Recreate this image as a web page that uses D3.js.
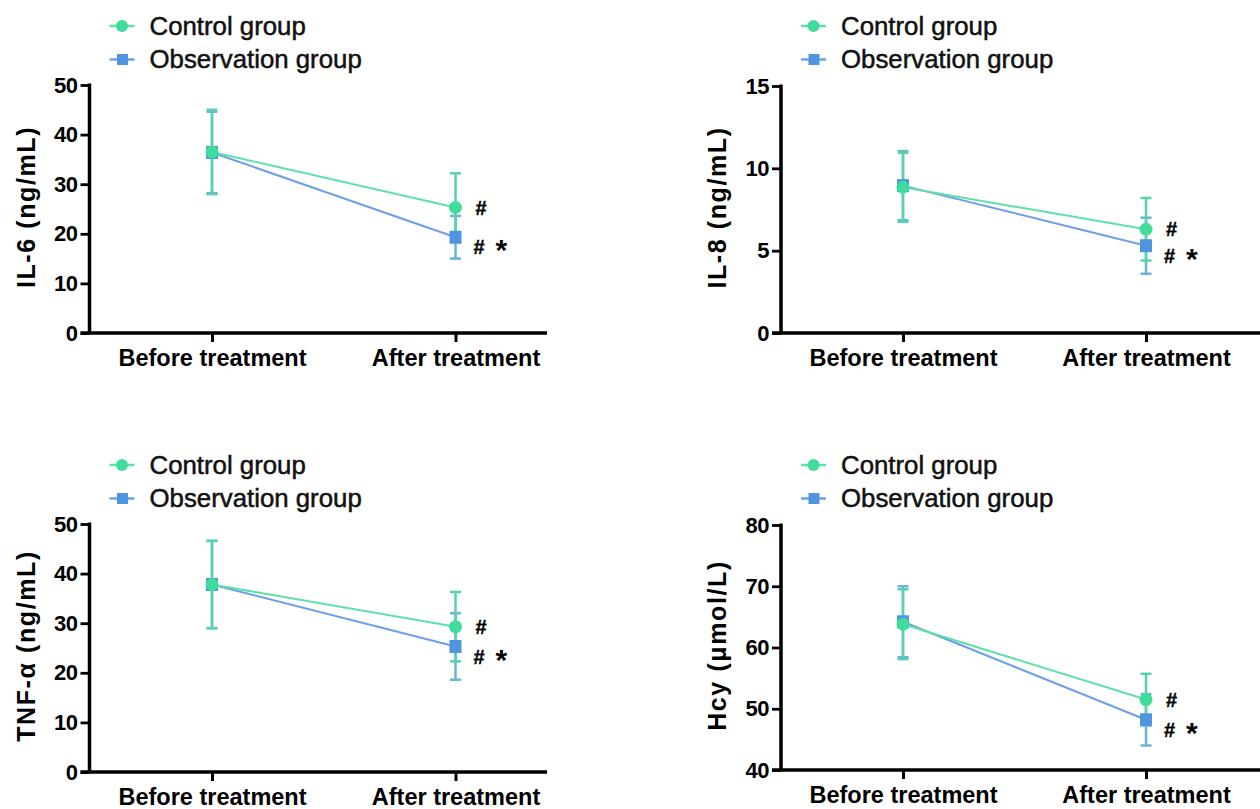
<!DOCTYPE html>
<html><head><meta charset="utf-8">
<script src="https://cdn.jsdelivr.net/npm/d3@7"></script>
<style>
body{margin:0;background:#fff;}
svg{display:block;font-family:"Liberation Sans",Arial,sans-serif;}
</style></head>
<body><svg id="c" width="1260" height="809"></svg>
<script>
const categories = ["Before treatment", "After treatment"];
const seriesNames = ["Control group", "Observation group"];

const il6Control = [36.5, 25.3];
const il6ControlErr = [8.5, 6.9];
const il6Obs = [36.4, 19.3];
const il6ObsErr = [8.2, 4.3];

const il8Control = [8.85, 6.3];
const il8ControlErr = [2.1, 1.9];
const il8Obs = [8.95, 5.3];
const il8ObsErr = [2.1, 1.7];

const tnfControl = [37.8, 29.3];
const tnfControlErr = [8.8, 7.0];
const tnfObs = [37.8, 25.3];
const tnfObsErr = [8.8, 6.7];

const hcyControl = [63.8, 51.5];
const hcyControlErr = [5.7, 4.2];
const hcyObs = [64.2, 48.2];
const hcyObsErr = [5.8, 4.2];

const il6Ticks = [0, 10, 20, 30, 40, 50];
const il8Ticks = [0, 5, 10, 15];
const tnfTicks = [0, 10, 20, 30, 40, 50];
const hcyTicks = [40, 50, 60, 70, 80];

const titles = ["IL-6 (ng/mL)", "IL-8 (ng/mL)", "TNF-α (ng/mL)", "Hcy (μmol/L)"];
const annotations = ["#", "#", "*"];

const C_LINE = "#5fe0aa", C_MARK = "#40dc9c", C_ERR = "#55d2b0";
const O_LINE = "#6c9fe6", O_MARK = "#4f95e0", O_ERR = "#6ab4d8";

const panels = [
  {title: titles[0], ticks: il6Ticks, c: il6Control, ce: il6ControlErr, o: il6Obs, oe: il6ObsErr,
   ax: 89.5, x0: 212, x1: 455.5, top: 85, bot: 333, xEnd: 547, legY: 26},
  {title: titles[1], ticks: il8Ticks, c: il8Control, ce: il8ControlErr, o: il8Obs, oe: il8ObsErr,
   ax: 781, x0: 903, x1: 1146, top: 86, bot: 333, xEnd: 1262, legY: 26},
  {title: titles[2], ticks: tnfTicks, c: tnfControl, ce: tnfControlErr, o: tnfObs, oe: tnfObsErr,
   ax: 89.5, x0: 212, x1: 455.5, top: 524, bot: 772, xEnd: 547, legY: 465},
  {title: titles[3], ticks: hcyTicks, c: hcyControl, ce: hcyControlErr, o: hcyObs, oe: hcyObsErr,
   ax: 781, x0: 903, x1: 1146, top: 525, bot: 770, xEnd: 1262, legY: 465}
];

const svg = d3.select("#c");
const FF = "'Liberation Sans', Arial, sans-serif";

panels.forEach(p => {
  const g = svg.append("g");
  const y = d3.scaleLinear().domain(d3.extent(p.ticks)).range([p.bot, p.top]);
  const x = d3.scalePoint().domain(categories).range([p.x0, p.x1]);

  // y axis
  const ya = g.append("g").attr("transform", `translate(${p.ax},0)`)
    .call(d3.axisLeft(y).tickValues(p.ticks).tickSize(9).tickPadding(3).tickFormat(d3.format("d")));
  ya.select(".domain").attr("stroke", "#000").attr("stroke-width", 3.5)
    .attr("d", `M0,${p.top - 1.5}V${p.bot}`);
  ya.selectAll(".tick line").attr("stroke", "#000").attr("stroke-width", 2.8);
  ya.selectAll(".tick text").attr("fill", "#000").attr("font-size", 22).attr("font-weight", "bold")
    .attr("font-family", FF).attr("letter-spacing", -0.5);

  // x axis
  const xa = g.append("g").attr("transform", `translate(0,${p.bot})`)
    .call(d3.axisBottom(x).tickSize(9).tickPadding(7));
  xa.select(".domain").attr("stroke", "#000").attr("stroke-width", 3.5)
    .attr("d", `M${p.ax - 9},0H${p.xEnd}`);
  xa.selectAll(".tick line").attr("stroke", "#000").attr("stroke-width", 3);
  xa.selectAll(".tick text").attr("fill", "#000").attr("font-size", 23.5).attr("font-weight", "bold")
    .attr("font-family", FF);

  // y title
  g.append("text")
    .attr("transform", `translate(${p.ax - 55},${(p.top + p.bot) / 2 - 2}) rotate(-90)`)
    .attr("text-anchor", "middle")
    .attr("font-size", 25).attr("font-weight", "bold")
    .attr("letter-spacing", 1.6)
    .text(p.title);

  const series = [
    {v: p.c, e: p.ce, line: C_LINE, mark: C_MARK, err: C_ERR, shape: "circle"},
    {v: p.o, e: p.oe, line: O_LINE, mark: O_MARK, err: O_ERR, shape: "square"}
  ];

  const lineGen = d3.line().x((d, i) => x(categories[i])).y(d => y(d));
  [series[1], series[0]].forEach(s => {
    g.append("path").datum(s.v).attr("d", lineGen)
      .attr("fill", "none").attr("stroke", s.line).attr("stroke-width", 2);
  });
  // error bars
  [series[1], series[0]].forEach(s => {
    s.v.forEach((v, i) => {
      const cx = x(categories[i]);
      const eg = g.append("g").attr("stroke", s.err).attr("stroke-width", 2.5);
      eg.append("line").attr("x1", cx).attr("x2", cx).attr("y1", y(v - s.e[i])).attr("y2", y(v + s.e[i]));
      [v - s.e[i], v + s.e[i]].forEach(t => {
        eg.append("line").attr("x1", cx - 5.5).attr("x2", cx + 5.5).attr("y1", y(t)).attr("y2", y(t));
      });
    });
  });
  // markers
  [series[1], series[0]].forEach(s => {
    s.v.forEach((v, i) => {
      const cx = x(categories[i]);
      if (s.shape === "circle") {
        g.append("circle").attr("cx", cx).attr("cy", y(v)).attr("r", 6.5).attr("fill", s.mark);
      } else {
        g.append("rect").attr("x", cx - 6).attr("y", y(v) - 6.5).attr("width", 12).attr("height", 13).attr("fill", s.mark);
      }
    });
  });

  // annotations
  const ax2 = x(categories[1]);
  g.append("text").attr("x", ax2 + 20).attr("y", y(p.c[1]) + 7)
    .attr("font-size", 20).attr("font-weight", "bold").attr("stroke", "#000").attr("stroke-width", 0.4)
    .text(annotations[0]);
  g.append("text").attr("x", ax2 + 18).attr("y", y(p.o[1]) + 17)
    .attr("font-size", 20).attr("font-weight", "bold").attr("stroke", "#000").attr("stroke-width", 0.4)
    .text(annotations[1]);
  g.append("text").attr("x", ax2 + 40).attr("y", y(p.o[1]) + 23)
    .attr("font-size", 30).attr("font-weight", "bold").text(annotations[2]);

  // legend
  const lx = p.ax + 20;
  seriesNames.forEach((name, i) => {
    const ly = p.legY + i * 33.5;
    const s = series[i];
    g.append("line").attr("x1", lx).attr("x2", lx + 25).attr("y1", ly).attr("y2", ly)
      .attr("stroke", s.line).attr("stroke-width", 2.5);
    if (i === 0) g.append("circle").attr("cx", lx + 12.5).attr("cy", ly).attr("r", 6).attr("fill", s.mark);
    else g.append("rect").attr("x", lx + 7.5).attr("y", ly - 5.5).attr("width", 11).attr("height", 11).attr("fill", s.mark);
    g.append("text").attr("x", lx + 40).attr("y", ly + 8.5)
      .attr("font-size", 25.8).attr("fill", "#111").attr("stroke", "#111").attr("stroke-width", 0.5)
      .text(name);
  });
});
</script></body></html>
